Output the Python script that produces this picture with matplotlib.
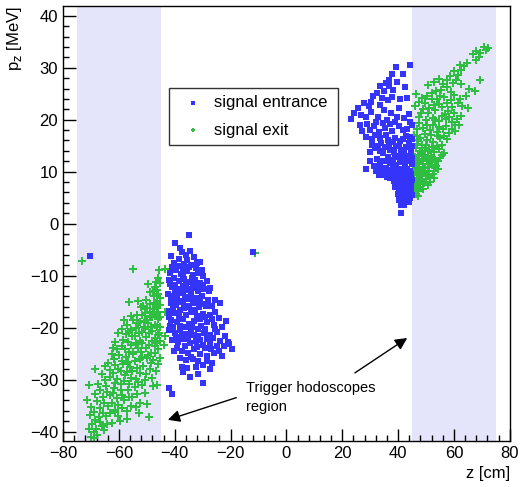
import matplotlib
matplotlib.use('Agg')
import matplotlib.pyplot as plt
import numpy as np
from matplotlib.ticker import MultipleLocator

plt.rcParams['font.family'] = ['Liberation Sans', 'DejaVu Sans']

# shaded trigger hodoscope regions (z in cm)
hodo_regions = [(-75, -45), (45, 75)]

# signal entrance points (z [cm], pz [MeV])
entrance_left = [
    (-35.0, -2.1), (-39.8, -3.8), (-41.3, -6.2), (-37.5, -5.5), (-36.0, -6.0), (-34.5, -5.2),
    (-38.6, -6.8), (-33.2, -6.5), (-31.0, -7.3), (-40.2, -7.6), (-36.8, -7.8), (-34.0, -8.0),
    (-41.6, -9.4), (-39.5, -9.0), (-37.8, -9.6), (-35.6, -9.2), (-33.5, -9.8), (-31.5, -9.4),
    (-29.8, -10.0), (-42.0, -10.8), (-40.2, -10.5), (-38.4, -11.0), (-36.5, -10.7), (-34.6, -11.2),
    (-32.7, -10.9), (-30.8, -11.5), (-28.6, -11.0), (-41.0, -12.2), (-39.0, -12.5), (-37.2, -12.0),
    (-35.3, -12.8), (-33.4, -12.3), (-31.6, -12.9), (-29.5, -12.6), (-27.2, -12.3), (-42.3, -13.6),
    (-40.4, -13.9), (-38.5, -13.4), (-36.4, -14.1), (-34.2, -13.7), (-32.2, -14.3), (-30.3, -13.9),
    (-28.2, -14.6), (-41.5, -15.2), (-39.6, -15.6), (-37.6, -15.0), (-35.6, -15.8), (-33.6, -15.3),
    (-31.4, -16.0), (-29.4, -15.5), (-26.8, -15.9), (-23.7, -15.2), (-42.0, -16.8), (-40.0, -17.2),
    (-38.0, -16.6), (-36.0, -17.5), (-34.0, -17.0), (-32.0, -17.8), (-30.0, -17.3), (-27.5, -17.6),
    (-25.4, -17.0), (-41.2, -18.6), (-39.2, -19.0), (-37.0, -18.4), (-35.0, -19.3), (-33.0, -18.8),
    (-30.6, -19.6), (-28.4, -19.0), (-26.0, -19.4), (-21.6, -18.8), (-24.0, -18.2), (-42.0, -20.5),
    (-40.0, -21.0), (-38.2, -20.4), (-36.2, -21.3), (-34.0, -20.8), (-31.8, -21.6), (-29.6, -21.0),
    (-27.2, -21.5), (-24.8, -20.8), (-22.0, -21.6), (-41.0, -22.4), (-38.8, -22.8), (-36.8, -22.2),
    (-34.5, -23.0), (-32.2, -22.6), (-30.0, -23.3), (-27.5, -22.9), (-25.0, -23.6), (-22.5, -23.6),
    (-19.5, -24.1), (-39.2, -23.9), (-37.4, -24.5), (-35.2, -24.8), (-33.0, -24.2), (-30.8, -25.0),
    (-28.4, -25.4), (-26.0, -24.9), (-23.1, -25.5), (-38.0, -25.8), (-36.0, -26.2), (-33.6, -26.0),
    (-28.4, -26.5), (-31.7, -29.0), (-34.4, -29.4), (-37.4, -27.6), (-29.7, -30.6), (-42.0, -31.7),
    (-41.0, -32.7), (-35.5, -27.8), (-26.5, -26.8), (-39.0, -14.8), (-36.9, -13.2), (-33.0, -11.6),
    (-40.8, -8.4), (-38.9, -8.2), (-36.9, -8.7), (-35.0, -8.4), (-32.4, -8.6), (-30.4, -8.9),
    (-41.8, -11.6), (-39.8, -11.8), (-37.9, -12.6), (-35.8, -11.6), (-34.0, -12.6), (-31.9, -11.9),
    (-29.9, -11.8), (-27.8, -13.0), (-41.2, -14.4), (-39.3, -14.2), (-37.2, -14.8), (-35.1, -14.4),
    (-33.0, -14.9), (-30.8, -15.0), (-28.8, -15.9), (-25.6, -14.7), (-40.6, -16.2), (-38.6, -17.8),
    (-36.7, -16.3), (-34.8, -16.0), (-32.8, -16.6), (-30.9, -18.4), (-29.0, -18.0), (-26.6, -18.3),
    (-40.5, -19.8), (-38.0, -19.7), (-36.0, -19.9), (-33.8, -19.8), (-31.5, -20.3), (-29.0, -20.2),
    (-25.5, -20.2), (-23.0, -19.9), (-39.6, -21.8), (-37.5, -21.6), (-35.4, -22.0), (-33.2, -21.5),
    (-31.0, -22.3), (-28.5, -22.2), (-26.2, -22.0), (-23.6, -22.5), (-21.0, -22.8), (-40.2, -24.5),
    (-36.4, -23.6), (-32.0, -23.8), (-29.2, -24.0), (-27.0, -24.2), (-24.0, -24.4), (-34.2, -25.6),
    (-31.8, -26.4), (-29.8, -27.2), (-37.0, -28.6), (-32.5, -27.6), (-27.2, -28.0), (-20.6, -23.2),
    (-33.7, -10.4), (-37.0, -10.2), (-39.8, -12.9), (-42.2, -18.0), (-41.6, -19.6), (-35.6, -7.0),
    (-32.0, -7.6), (-38.0, -4.6),
    (-70.2, -6.2), (-11.8, -5.4),
]
entrance_right = [
    (44.1, 30.6), (39.1, 30.1), (41.9, 28.7), (37.9, 28.8), (36.7, 27.6), (39.7, 27.2),
    (33.5, 26.4), (32.3, 25.1), (35.0, 25.5), (38.2, 25.8), (34.1, 24.2), (31.0, 24.5),
    (36.5, 23.8), (27.7, 23.3), (29.5, 22.6), (24.1, 21.3), (23.2, 20.1), (26.5, 19.0),
    (31.3, 18.7), (34.9, 21.9), (37.3, 21.3), (40.3, 22.3), (43.3, 24.2), (25.8, 22.2),
    (28.6, 20.5), (30.2, 21.4), (32.8, 20.6), (33.4, 22.8), (36.0, 20.0), (38.9, 19.6),
    (42.0, 20.4), (44.0, 21.0), (27.0, 17.8), (29.8, 18.0), (33.0, 17.6), (35.2, 18.4),
    (37.8, 17.9), (40.5, 18.8), (43.2, 18.2), (31.9, 17.1), (39.0, 16.5), (41.8, 16.2),
    (44.2, 16.6), (36.4, 16.0), (34.0, 15.6), (30.1, 13.7), (29.9, 12.0), (31.6, 14.6),
    (33.5, 13.9), (35.4, 14.8), (37.2, 14.2), (39.2, 15.0), (41.0, 14.1), (43.0, 14.7),
    (44.6, 13.8), (32.4, 12.5), (34.4, 12.0), (36.3, 12.8), (38.2, 12.2), (40.0, 13.0),
    (41.9, 12.4), (43.8, 12.0), (31.2, 11.0), (33.1, 9.4), (34.9, 9.4), (35.5, 10.8),
    (37.4, 10.3), (39.1, 11.2), (40.8, 10.6), (42.6, 11.0), (44.4, 10.2), (28.5, 10.5),
    (32.0, 10.2), (38.0, 9.6), (39.5, 9.0), (41.0, 9.3), (42.5, 8.8), (44.0, 9.1),
    (38.6, 8.2), (40.2, 7.8), (41.6, 8.0), (43.1, 7.5), (44.6, 7.9), (39.0, 7.0),
    (40.6, 6.5), (42.0, 6.8), (43.5, 6.2), (44.8, 6.6), (39.8, 5.8), (41.2, 5.4),
    (42.8, 5.6), (44.2, 5.0), (40.4, 4.6), (41.8, 4.2), (43.4, 4.5), (41.1, 3.5),
    (41.1, 2.1), (37.2, 8.8), (36.0, 9.0), (45.0, 8.4), (44.9, 11.5), (45.0, 14.9),
    (45.0, 18.9), (36.8, 26.5), (42.3, 9.9), (40.0, 10.2), (43.6, 8.4), (41.5, 7.1),
    (40.7, 23.9), (42.6, 26.2), (35.6, 27.0), (37.7, 24.4), (30.4, 23.4), (26.8, 20.9),
    (29.0, 19.2), (32.0, 19.5), (34.6, 19.3), (37.0, 19.2), (39.6, 20.6), (41.9, 18.0),
    (44.4, 19.6), (28.5, 16.6), (30.8, 16.2), (33.4, 16.4), (35.8, 17.1), (38.3, 15.7),
    (40.6, 15.9), (42.7, 16.8), (30.8, 15.2), (32.7, 15.0), (34.6, 13.6), (36.6, 15.4),
    (38.6, 13.8), (40.4, 14.9), (42.1, 13.6), (43.9, 15.5), (33.4, 11.2), (35.1, 12.0),
    (37.0, 11.6), (38.8, 12.9), (40.6, 11.8), (42.3, 12.3), (44.0, 13.1), (34.2, 10.4),
    (36.5, 9.8), (38.2, 10.9), (39.8, 10.4), (41.5, 10.4), (43.2, 10.6), (44.6, 9.6),
    (38.8, 9.8), (40.2, 9.4), (41.8, 9.0), (43.4, 9.4), (39.4, 8.4), (40.9, 8.1),
    (42.4, 7.8), (43.9, 8.0), (39.7, 7.2), (41.1, 6.8), (42.7, 6.4), (44.2, 6.8),
    (40.4, 6.0), (41.9, 5.8), (43.5, 5.4), (44.9, 5.6), (40.9, 4.8), (42.4, 4.8),
    (44.0, 4.2), (42.1, 3.6), (45.0, 12.6), (45.0, 16.2),
]

# signal exit points
exit_left = [
    (-54.9, -8.7), (-45.5, -9.0), (-46.0, -10.5), (-49.5, -11.7), (-45.1, -11.4), (-47.0, -12.2),
    (-46.2, -12.8), (-45.8, -13.5), (-47.5, -14.0), (-46.5, -14.8), (-48.8, -15.5), (-50.2, -14.6),
    (-56.2, -15.1), (-52.0, -16.0), (-45.3, -15.7), (-49.0, -13.2), (-51.2, -15.8), (-47.8, -16.4),
    (-45.9, -16.9), (-53.5, -17.5), (-50.5, -17.2), (-48.2, -18.0), (-46.0, -18.3), (-54.8, -18.6),
    (-52.3, -18.9), (-49.5, -19.2), (-47.1, -19.5), (-45.4, -19.8), (-57.0, -19.4), (-55.6, -17.8),
    (-51.0, -19.9), (-53.9, -20.0), (-58.8, -20.2), (-46.6, -17.6), (-50.0, -18.5), (-48.9, -16.9),
    (-60.2, -21.0), (-57.5, -21.3), (-55.2, -21.6), (-52.8, -21.1), (-50.4, -21.8), (-48.0, -20.7),
    (-46.1, -21.4), (-45.3, -22.5), (-56.8, -22.7), (-54.0, -23.0), (-51.6, -22.9), (-49.2, -23.3),
    (-47.0, -23.6), (-59.0, -23.5), (-61.5, -22.8), (-53.1, -24.0), (-57.9, -24.1), (-55.5, -20.5),
    (-50.7, -20.3), (-45.8, -24.2), (-48.5, -24.8), (-62.5, -25.0), (-60.0, -25.3), (-57.3, -25.6),
    (-55.0, -25.1), (-52.5, -26.0), (-50.0, -25.8), (-47.6, -26.3), (-46.0, -27.0), (-63.8, -26.8),
    (-61.2, -27.2), (-58.6, -27.0), (-56.0, -27.5), (-53.6, -27.8), (-51.3, -27.3), (-49.0, -28.0),
    (-65.0, -27.4), (-68.6, -27.9), (-59.4, -28.3), (-54.8, -24.7), (-57.0, -28.6), (-66.0, -29.0),
    (-63.0, -29.5), (-60.5, -29.8), (-58.0, -30.2), (-55.5, -29.6), (-53.0, -30.5), (-50.5, -30.0),
    (-47.8, -31.2), (-46.3, -31.0), (-70.8, -31.0), (-67.5, -30.8), (-64.6, -31.3), (-61.8, -31.6),
    (-59.2, -31.9), (-56.8, -32.0), (-50.5, -32.6), (-62.0, -28.8), (-54.2, -31.5), (-68.5, -32.8),
    (-65.8, -33.3), (-63.2, -33.0), (-60.6, -33.6), (-58.0, -34.0), (-55.4, -33.4), (-52.3, -34.4),
    (-71.4, -34.0), (-69.8, -35.2), (-66.9, -35.5), (-64.0, -35.0), (-61.4, -35.8), (-59.0, -35.4),
    (-57.2, -36.0), (-54.0, -35.2), (-49.8, -34.6), (-70.2, -36.8), (-67.0, -37.2), (-64.5, -37.0),
    (-61.5, -36.3), (-57.0, -37.5), (-49.3, -37.2), (-68.4, -37.7), (-69.6, -38.6), (-66.2, -38.9),
    (-62.4, -38.4), (-69.0, -40.0), (-65.4, -39.7), (-67.8, -40.6), (-70.0, -41.0), (-68.2, -39.5),
    (-59.5, -38.0), (-43.6, -8.8), (-43.4, -16.9), (-43.5, -21.7), (-43.7, -23.3),
    (-46.8, -11.2), (-47.9, -13.0), (-45.2, -14.3), (-49.8, -16.3), (-47.2, -15.2), (-46.4, -16.0),
    (-51.8, -17.6), (-49.0, -17.7), (-47.5, -17.3), (-45.2, -17.9), (-53.2, -19.1), (-50.8, -18.8),
    (-48.4, -19.8), (-46.2, -19.9), (-56.2, -20.9), (-54.1, -21.7), (-51.7, -20.8), (-49.2, -21.1),
    (-47.1, -22.0), (-45.5, -21.0), (-58.4, -22.4), (-55.8, -23.4), (-52.6, -22.6), (-50.3, -23.9),
    (-48.1, -22.6), (-46.2, -23.0), (-60.6, -24.1), (-56.4, -24.6), (-52.0, -24.6), (-49.6, -25.3),
    (-47.0, -24.9), (-45.3, -25.8), (-61.6, -26.0), (-59.0, -26.4), (-56.8, -26.6), (-54.2, -26.4),
    (-51.8, -25.6), (-48.6, -26.8), (-46.6, -28.4), (-63.0, -28.2), (-60.3, -28.0), (-57.9, -29.1),
    (-55.4, -28.4), (-52.4, -28.8), (-50.2, -29.0), (-48.0, -29.6), (-64.8, -30.0), (-61.4, -30.6),
    (-59.2, -30.8), (-56.5, -30.8), (-54.0, -29.8), (-51.6, -31.0), (-66.8, -32.0), (-64.4, -32.4),
    (-62.0, -32.6), (-58.8, -33.0), (-56.4, -33.3), (-53.6, -32.8), (-67.8, -34.2), (-65.2, -34.4),
    (-62.6, -34.5), (-60.2, -34.8), (-55.6, -35.0), (-68.8, -36.2), (-65.6, -36.4), (-63.2, -36.4),
    (-60.2, -37.0), (-66.6, -38.2), (-64.2, -38.6), (-70.8, -39.4), (-68.8, -41.2), (-52.8, -36.5),
    (-62.2, -24.0), (-58.0, -18.5), (-53.0, -14.8),
    (-73.2, -7.1), (-11.2, -5.7),
]
exit_right = [
    (71.4, 33.5), (67.8, 33.3), (68.8, 32.0), (67.0, 32.6), (69.5, 32.8), (63.6, 30.3),
    (62.5, 29.6), (60.0, 29.3), (61.4, 28.6), (69.2, 27.7), (67.6, 25.6), (60.6, 27.7),
    (52.8, 27.2), (54.5, 27.8), (56.0, 26.8), (57.6, 26.2), (55.2, 25.8), (58.8, 25.4),
    (53.6, 25.5), (46.3, 25.0), (48.5, 24.2), (50.2, 24.6), (52.0, 23.9), (54.0, 24.0),
    (56.5, 24.4), (59.0, 23.8), (61.5, 23.2), (64.2, 24.5), (63.0, 22.6), (46.0, 22.6),
    (49.0, 22.0), (51.2, 22.3), (53.4, 21.8), (55.6, 22.4), (57.8, 21.6), (60.2, 21.2),
    (62.4, 20.8), (47.5, 20.5), (50.0, 20.0), (52.6, 20.4), (54.8, 19.8), (57.0, 20.2),
    (59.4, 19.6), (61.8, 19.0), (46.9, 18.2), (45.7, 17.1), (49.0, 18.4), (51.5, 18.0),
    (53.8, 17.6), (56.0, 18.2), (58.3, 17.4), (60.5, 17.8), (57.6, 16.2), (48.0, 16.5),
    (50.4, 16.0), (52.6, 15.8), (55.0, 16.4), (46.6, 15.4), (46.3, 14.5), (47.8, 14.0),
    (49.5, 14.6), (51.2, 14.1), (53.0, 13.8), (54.8, 14.3), (56.6, 13.6), (46.0, 12.8),
    (47.6, 12.4), (49.2, 13.0), (50.9, 12.3), (52.6, 12.7), (54.3, 12.0), (45.8, 11.3),
    (47.4, 10.8), (49.0, 11.4), (50.6, 10.9), (52.2, 11.2), (53.5, 11.0), (46.2, 9.9),
    (47.8, 9.5), (49.3, 9.8), (50.9, 9.2), (52.4, 9.6), (45.7, 8.5), (47.2, 8.2),
    (48.7, 8.6), (49.9, 8.5), (51.5, 8.0), (46.5, 7.2), (48.0, 7.0), (46.3, 5.8),
    (47.3, 6.2), (45.5, 10.5), (45.4, 13.0), (55.8, 15.2), (48.4, 13.5), (51.8, 13.0),
    (50.0, 15.1), (47.0, 16.0), (48.6, 10.2), (46.8, 11.9),
    (70.6, 33.9), (72.2, 33.8), (68.0, 31.4), (64.8, 30.9), (62.0, 30.6), (58.6, 28.4),
    (57.4, 27.6), (59.8, 27.0), (62.7, 26.8), (65.5, 26.0), (50.8, 26.6), (52.2, 25.2),
    (55.0, 24.6), (57.4, 23.2), (60.2, 24.8), (62.3, 24.0), (65.0, 22.3), (47.4, 23.4),
    (49.8, 23.2), (52.8, 22.8), (54.6, 23.0), (56.8, 21.0), (59.2, 22.4), (61.0, 20.2),
    (48.2, 21.2), (50.8, 21.3), (53.4, 20.0), (55.8, 20.8), (58.2, 20.6), (60.4, 19.0),
    (47.6, 19.3), (50.2, 19.0), (52.4, 18.9), (54.6, 18.6), (57.2, 18.8), (59.4, 18.2),
    (49.6, 17.3), (51.8, 17.1), (54.4, 16.9), (56.6, 16.9), (46.8, 16.8), (47.1, 13.2),
    (48.6, 15.2), (50.6, 14.0), (52.0, 14.7), (53.8, 15.0), (55.6, 13.2), (47.0, 11.6),
    (48.4, 12.0), (50.0, 12.6), (51.6, 11.8), (53.2, 12.2), (55.0, 12.6), (46.4, 10.4),
    (48.1, 10.4), (49.7, 10.7), (51.2, 10.2), (52.8, 10.2), (54.2, 10.6), (46.8, 8.8),
    (48.3, 9.2), (50.0, 9.6), (51.4, 9.0), (53.0, 8.8), (46.0, 7.6), (47.6, 7.6),
    (49.2, 7.8), (50.6, 7.4), (45.6, 6.7), (47.0, 5.4), (48.8, 6.6), (45.8, 9.3),
]

entrance = np.array(entrance_left + entrance_right)
exits = np.array(exit_left + exit_right)

blue = '#3434fa'
green = '#2fbd42'

fig = plt.figure(figsize=(5.25, 4.87), dpi=100)
ax = fig.add_axes([0.12, 0.0945, 0.851, 0.8935])

for lo, hi in hodo_regions:
    ax.axvspan(lo, hi, color='#e4e4fa', lw=0, zorder=0)

ax.scatter(exits[:, 0], exits[:, 1], marker='P', s=30, color=green, lw=0,
           label='signal exit', zorder=2)
ax.scatter(entrance[:, 0], entrance[:, 1], marker='s', s=18, color=blue, lw=0,
           label='signal entrance', zorder=3)

ax.set_xlim(-80, 80)
ax.set_ylim(-41.8, 41.9)
ax.xaxis.set_major_locator(MultipleLocator(20))
ax.xaxis.set_minor_locator(MultipleLocator(4))
ax.yaxis.set_major_locator(MultipleLocator(10))
ax.yaxis.set_minor_locator(MultipleLocator(2))
ax.tick_params(which='both', direction='in', top=False, right=False, labelsize=12, width=1)
ax.tick_params(which='major', length=9)
ax.tick_params(which='minor', length=4.5)
for sp in ax.spines.values():
    sp.set_linewidth(1)

ax.set_xlabel('z [cm]', loc='right', fontsize=12)
ax.set_ylabel(r'p$_{\rm z}$ [MeV]', loc='top', fontsize=12)

handles, labels = ax.get_legend_handles_labels()
leg = ax.legend(handles[::-1], labels[::-1], loc='upper left',
                bbox_to_anchor=(0.237, 0.688, 0.378, 0.1235), mode='expand',
                borderaxespad=0, fontsize=12, frameon=True, fancybox=False,
                edgecolor='black', markerscale=0.55, handletextpad=0.25,
                borderpad=0.45, labelspacing=0.75, handlelength=2.0)
leg.get_frame().set_linewidth(1)

ax.text(-14.5, -36.6, 'Trigger hodoscopes\nregion', fontsize=10.5, va='bottom', ha='left',
        linespacing=1.45)
ax.annotate('', xy=(-43.4, -37.9), xytext=(-17.0, -33.3),
            arrowprops=dict(arrowstyle='-|>', color='black', lw=1, mutation_scale=18))
ax.annotate('', xy=(44.1, -21.7), xytext=(23.7, -29.0),
            arrowprops=dict(arrowstyle='-|>', color='black', lw=1, mutation_scale=18))

fig.savefig('out.png', dpi=100)
